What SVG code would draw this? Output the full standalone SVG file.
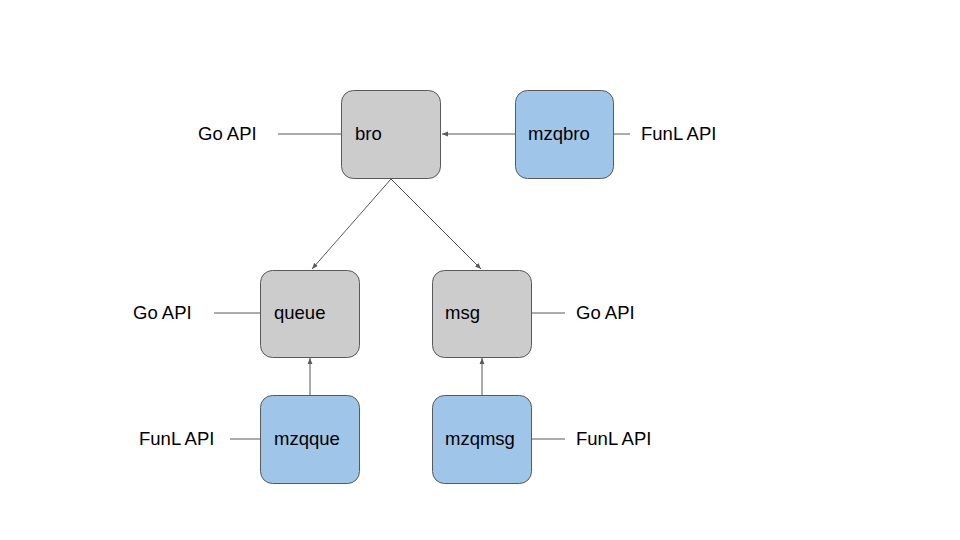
<svg xmlns="http://www.w3.org/2000/svg" width="960" height="540" viewBox="0 0 960 540">
<style>
.n rect{stroke:#595959;stroke-width:1}
.g rect{fill:#cccccc}
.b rect{fill:#9fc5e8}
text{font-family:"Liberation Sans",Arial,sans-serif;font-size:18.5px;fill:#000}
.c line{stroke:#595959;stroke-width:1}
.a{marker-end:url(#ah)}
</style>
<defs>
<marker id="ah" viewBox="0 0 10 10" refX="10" refY="5" markerWidth="6" markerHeight="6" markerUnits="userSpaceOnUse" orient="auto">
<path d="M0,1 L10,5 L0,9 z" fill="#595959"/>
</marker>
</defs>
<rect width="960" height="540" fill="#ffffff"/>
<g id="connectors" class="c">
<line x1="278" y1="134" x2="341" y2="134"/>
<line x1="613" y1="134" x2="630" y2="134"/>
<line x1="214" y1="313" x2="260" y2="313"/>
<line x1="531" y1="313" x2="565" y2="313"/>
<line x1="230" y1="439" x2="260" y2="439"/>
<line x1="531" y1="439" x2="565" y2="439"/>
<line class="a" x1="515" y1="134" x2="442" y2="134"/>
<line class="a" x1="391" y1="179" x2="312" y2="269"/>
<line class="a" x1="391" y1="179" x2="481" y2="269"/>
<line class="a" x1="310" y1="395" x2="310" y2="358"/>
<line class="a" x1="482" y1="395" x2="482" y2="358"/>
</g>
<g id="labels">
<text x="198" y="140">Go API</text>
<text x="641" y="140">FunL API</text>
<text x="133" y="319">Go API</text>
<text x="576" y="319">Go API</text>
<text x="139" y="445">FunL API</text>
<text x="576" y="445">FunL API</text>
</g>
<g id="bro" class="n g"><rect x="341.5" y="90.5" width="99" height="88" rx="12"/><text x="355" y="140">bro</text></g>
<g id="mzqbro" class="n b"><rect x="515.5" y="90.5" width="98" height="88" rx="12"/><text x="528" y="140">mzqbro</text></g>
<g id="queue" class="n g"><rect x="260.5" y="270.5" width="99" height="87" rx="12"/><text x="274" y="319">queue</text></g>
<g id="msg" class="n g"><rect x="432.5" y="270.5" width="99" height="87" rx="12"/><text x="445" y="319">msg</text></g>
<g id="mzqque" class="n b"><rect x="260.5" y="395.5" width="99" height="88" rx="12"/><text x="274" y="445">mzqque</text></g>
<g id="mzqmsg" class="n b"><rect x="432.5" y="395.5" width="99" height="88" rx="12"/><text x="445" y="445">mzqmsg</text></g>
</svg>
